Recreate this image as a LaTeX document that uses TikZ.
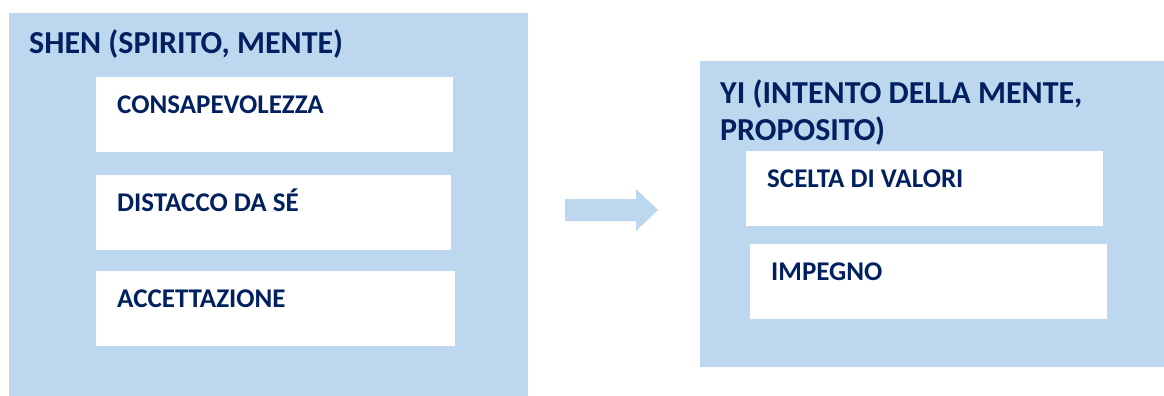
\documentclass[tikz,border=0pt]{standalone}
\usepackage{fontspec}
\setmainfont{Carlito}
\definecolor{boxblue}{HTML}{BDD7EE}
\definecolor{navy}{HTML}{002060}
\begin{document}
\begin{tikzpicture}[x=1pt,y=-1pt,
  outerbox/.style={fill=boxblue,draw=none,inner sep=0,anchor=north west},
  innerbox/.style={fill=white,draw=none,inner sep=0,anchor=north west,minimum height=75pt},
  title/.style={anchor=base west,inner sep=0,text=navy,font=\bfseries\fontsize{32}{37}\selectfont},
  item/.style={anchor=base west,inner sep=0,text=navy,font=\bfseries\fontsize{27}{31}\selectfont},
  blockarrow/.style={fill=boxblue,draw=none}]
\useasboundingbox (0,0) rectangle (1164,396);
% left group
\node[outerbox,minimum width=519pt,minimum height=383pt] (shen) at (9,13) {};
\node[innerbox,minimum width=357pt] (b1) at (96,77) {};
\node[innerbox,minimum width=355pt] (b2) at (96,175) {};
\node[innerbox,minimum width=359pt] (b3) at (96,271) {};
\node[title] (shent) at (29,54) {SHEN (SPIRITO, MENTE)};
\node[item] (t1) at (117,113) {CONSAPEVOLEZZA};
\node[item] (t2) at (117,211) {DISTACCO DA SÉ};
\node[item] (t3) at (117,307) {ACCETTAZIONE};
% right group
\node[outerbox,minimum width=464pt,minimum height=306pt] (yi) at (700,61) {};
\node[innerbox,minimum width=357pt] (b4) at (746,151) {};
\node[innerbox,minimum width=357pt] (b5) at (750,244) {};
\node[title] (yit1) at (720,103) {YI (INTENTO DELLA MENTE,};
\node[title] (yit2) at (720,140) {PROPOSITO)};
\node[item] (t4) at (767,187) {SCELTA DI VALORI};
\node[item] (t5) at (771,280) {IMPEGNO};
% block arrow
\fill[blockarrow] (565,199) -- (636,199) -- (636,189) -- (658,210) -- (636,231) -- (636,221) -- (565,221) -- cycle;
\end{tikzpicture}
\end{document}
